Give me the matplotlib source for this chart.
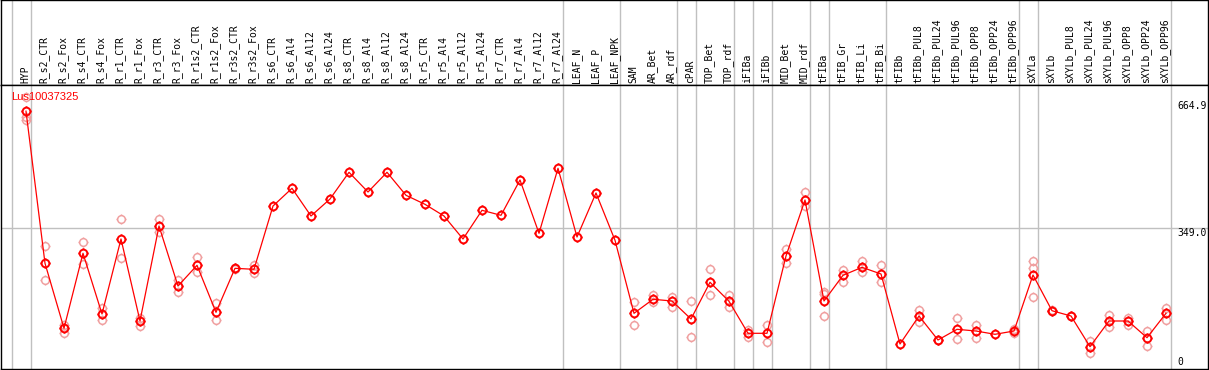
#!/usr/bin/env python3
"""Expression profile of Lus10037325 across tissues / treatments."""

import matplotlib
matplotlib.use("Agg")
import matplotlib.pyplot as plt
from matplotlib.path import Path
from matplotlib.transforms import blended_transform_factory

# sample (column) names, left to right
samples = [
    "HYP",
    "R_s2_CTR", "R_s2_Fox", "R_s4_CTR", "R_s4_Fox", "R_r1_CTR", "R_r1_Fox",
    "R_r3_CTR", "R_r3_Fox", "R_r1s2_CTR", "R_r1s2_Fox", "R_r3s2_CTR", "R_r3s2_Fox",
    "R_s6_CTR", "R_s6_Al4", "R_s6_Al12", "R_s6_Al24",
    "R_s8_CTR", "R_s8_Al4", "R_s8_Al12", "R_s8_Al24",
    "R_r5_CTR", "R_r5_Al4", "R_r5_Al12", "R_r5_Al24",
    "R_r7_CTR", "R_r7_Al4", "R_r7_Al12", "R_r7_Al24",
    "LEAF_N", "LEAF_P", "LEAF_NPK",
    "SAM", "AR_Bet", "AR_rdf", "cPAR", "TOP_Bet", "TOP_rdf",
    "iFIBa", "iFIBb", "MID_Bet", "MID_rdf",
    "tFIBa", "tFIB_Gr", "tFIB_Li", "tFIB_Bi", "tFIBb",
    "tFIBb_PUL8", "tFIBb_PUL24", "tFIBb_PUL96", "tFIBb_OPP8", "tFIBb_OPP24", "tFIBb_OPP96",
    "sXYLa", "sXYLb",
    "sXYLb_PUL8", "sXYLb_PUL24", "sXYLb_PUL96", "sXYLb_OPP8", "sXYLb_OPP24", "sXYLb_OPP96",
]

# mean expression per sample
means = [
    664.9,
    253.4, 77.6, 280.5, 116.3, 319.2, 97.4,
    354.3, 192.0, 248.0, 120.9, 239.9, 237.2,
    408.4, 456.3, 381.4, 427.4,
    499.6, 446.3, 499.6, 437.4,
    413.0, 381.4, 319.2, 396.8,
    383.3, 478.8, 334.6, 510.4,
    324.6, 443.6, 315.7,
    118.2, 156.1, 151.5, 102.8, 202.1, 150.7,
    64.1, 64.1, 273.2, 424.7,
    151.5, 221.0, 242.6, 224.5, 35.2,
    110.9, 46.0, 74.9, 70.3, 61.4, 70.3,
    221.8, 125.2,
    110.9, 27.9, 97.4, 97.4, 52.2, 118.2,
]

# individual replicate values (faint circles)
replicates = [
    [703.3, 650.5, 641.1],
    [300.2, 208.3], [86.6, 65.7], [310.3, 251.6], [131.7, 100.1], [372.5, 267.0], [106.3, 83.9],
    [372.5, 338.9], [208.3, 175.0], [269.7, 229.1], [145.3, 100.1], [242.0, 238.0], [248.9, 228.0],
    [], [], [], [],
    [], [], [], [],
    [], [], [], [],
    [], [], [], [],
    [], [], [],
    [148.0, 86.6], [167.7, 148.0], [163.1, 136.1], [150.7, 53.3], [237.2, 166.9], [167.7, 134.4],
    [73.0, 54.9], [85.7, 39.8], [292.1, 253.4], [445.5, 408.4],
    [175.0, 170.4, 110.1], [235.3, 202.1], [259.7, 230.7], [248.9, 202.1], [],
    [126.3, 93.9], [47.0, 45.0], [104.7, 48.7], [86.6, 50.6], [], [75.7, 64.1],
    [258.9, 239.9, 161.5], [126.0, 124.0],
    [112.0, 110.0], [44.1, 10.0], [113.6, 82.0], [104.7, 86.6], [71.1, 29.8], [131.7, 100.1],
]

# index of the last sample in each group (grey separators drawn after them)
group_ends = [-1, 0, 28, 31, 34, 35, 37, 38, 39, 41, 42, 45, 52, 53, 60]

gene_id = "Lus10037325"
y_ticks = [664.9, 349.0, 0]
y_tick_labels = ["664.9", "349.0", "0"]

RED = "#ff0000"
PINK = "#f0a0a0"
GREY = "#c0c0c0"
W, H = 1209, 370

# circle marker with four small ticks
circ = Path.circle((0, 0), 1.0)
ticks = Path([(0, 1), (0, 1.3), (0, -1), (0, -1.3), (1, 0), (1.3, 0), (-1, 0), (-1.3, 0)],
             [Path.MOVETO, Path.LINETO] * 4)
marker = Path.make_compound_path(circ, ticks)

fig = plt.figure(figsize=(W / 100, H / 100), dpi=100)
head = fig.add_axes([1 / W, (H - 85) / H, 1207 / W, 85 / H])
ax = fig.add_axes([1 / W, 1 / H, 1207 / W, 284 / H])

xlim = (-25 / 19, 1182 / 19)
for a in (head, ax):
    a.set_xlim(*xlim)
    a.set_xticks([])
    a.set_yticks([])
    for s in a.spines.values():
        s.set_color("black")
        s.set_linewidth(1.0)
    for g in group_ends:
        a.axvline(g + 0.24, color=GREY, lw=1.0, zorder=1)

ax.set_ylim((357 - 369) / 0.3697, (357 - 85) / 0.3697)
head.set_ylim(0, 1)

# header: rotated sample names
for i, name in enumerate(samples):
    head.text(i - 0.05, 0.025, name, rotation=90, ha="center", va="bottom",
              family="DejaVu Sans Mono", fontsize=7, color="black")

# reference line at mid value
ax.axhline(349.0, color=GREY, lw=1.0, zorder=1)

x = list(range(len(samples)))
for i, reps in enumerate(replicates):
    if reps:
        ax.plot([i] * len(reps), reps, linestyle="none", marker=marker, markersize=7.2,
                markerfacecolor="none", markeredgecolor=PINK, markeredgewidth=1.1, zorder=2)

ax.plot(x, means, color=RED, lw=0.9, zorder=3)
ax.plot(x, means, linestyle="none", marker=marker, markersize=7.2,
        markerfacecolor="none", markeredgecolor=RED, markeredgewidth=1.4, zorder=4)

# right-hand value labels
tx = blended_transform_factory(ax.transData, ax.transData)
for val, lab in zip(y_ticks, y_tick_labels):
    va = "bottom" if val == max(y_ticks) else "top"
    ax.text(60.6, val, lab, ha="left", va=va, family="DejaVu Sans Mono",
            fontsize=7, color="black", clip_on=True, zorder=5)

ax.text(0.008, 0.975, gene_id, transform=ax.transAxes, ha="left", va="top",
        family="Liberation Sans", fontsize=8, color=RED, zorder=5)

fig.savefig("out.png", dpi=100)
